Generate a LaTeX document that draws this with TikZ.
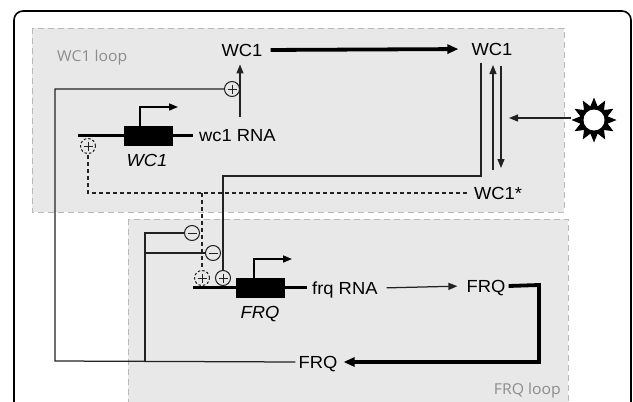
\documentclass[tikz,border=0pt]{standalone}
\usepackage{fontspec}
\setmainfont{Liberation Sans}[FakeStretch=1.05]
\newfontfamily\loopfont{Open Sans}[FakeStretch=1.05]
\usetikzlibrary{arrows.meta,shapes.geometric,calc}
\definecolor{bgfill}{HTML}{E8E8E8}
\definecolor{ink}{HTML}{222222}
\begin{document}
\begin{tikzpicture}[x=1pt,y=-1pt,
  lbl/.style={font=\fontsize{17.5}{19}\selectfont, text height=12.5pt, text depth=0pt, inner sep=3pt},
  ilbl/.style={lbl, font=\fontsize{17.5}{19}\selectfont\itshape},
  looplbl/.style={font=\loopfont\fontsize{15}{17}\selectfont, text=gray!90, inner sep=0pt},
  loopbox/.style={fill=bgfill, draw=gray!55, line width=1pt, dash pattern=on 6pt off 4pt},
  thin/.style={draw=ink, line width=1.25pt},
  thick/.style={draw=black, line width=3.8pt},
  tip/.style={-{Triangle[length=9pt,width=7pt]}},
  ttip/.style={-{Triangle[length=11pt,width=9pt]}},
  sgn/.style={circle, draw=ink, line width=1pt, minimum size=15pt, inner sep=0pt, fill=bgfill},
  plussgn/.style={sgn, path picture={\draw[ink,line width=1pt,solid] ($(path picture bounding box.center)+(-4.5,0)$) -- ++(9,0) ($(path picture bounding box.center)+(0,-4.5)$) -- ++(0,9);}},
  minussgn/.style={sgn, path picture={\draw[ink,line width=1pt,solid] ($(path picture bounding box.center)+(-4.5,0)$) -- ++(9,0);}},
  dsgn/.style={dash pattern=on 2.5pt off 2pt},
  genebox/.style={rectangle, fill=black, draw=black, minimum width=48pt, minimum height=19pt, inner sep=0pt},
  dna/.style={draw=black, line width=3pt},
  dsh/.style={thin, dash pattern=on 4pt off 3pt}
]
\useasboundingbox (0,0) rectangle (633,402);
\clip (0,0) rectangle (633,402);
\fill[white] (0,0) rectangle (633,402);

% outer frame
\draw[line width=1.6pt, rounded corners=9pt] (14,11) rectangle (631,430);

% loop boxes
\path[loopbox] (32,28) rectangle (564,212);
\path[loopbox] (128,219) rectangle (568,420);
\node[looplbl, anchor=west] (wcloop) at (57,58) {WC1 loop};
\node[looplbl, anchor=east] (frqloop) at (561,391) {FRQ loop};

% text nodes
\node[lbl] (WC1top) at (242,50) {WC1};
\node[lbl] (WC1r) at (492,49) {WC1};
\node[lbl] (WC1s) at (498,193) {WC1*};
\node[lbl, anchor=west] (wc1rna) at (196,135) {wc1 RNA};
\node[lbl, anchor=west] (frqrna) at (309,288) {frq RNA};
\node[lbl] (FRQr) at (486,286) {FRQ};
\node[lbl] (FRQb) at (318,362) {FRQ};

% WC1 gene
\coordinate (wdnaL) at (78,135);
\coordinate (wdnaR) at (193,135);
\draw[dna] (wdnaL) -- (wdnaR);
\node[genebox] (gWC1) at (148,135.5) {};
\node[ilbl] (WC1it) at (147,160) {WC1};
\coordinate (wprom) at (140,107);
\coordinate (wpromend) at (178,107);
\draw[draw=black, line width=1.6pt, tip] (gWC1.north -| wprom) -- (wprom) -- (wpromend);

% FRQ gene
\coordinate (fdnaL) at (193,287);
\coordinate (fdnaR) at (307,287);
\draw[dna] (fdnaL) -- (fdnaR);
\node[genebox] (gFRQ) at (260.5,287.5) {};
\node[ilbl] (FRQit) at (260,312) {FRQ};
\coordinate (fprom) at (254,259);
\coordinate (fpromend) at (292,259);
\draw[draw=black, line width=1.6pt, tip] (gFRQ.north -| fprom) -- (fprom) -- (fpromend);

% sign nodes
\node[plussgn] (p1) at (232,89) {};
\node[plussgn, dsgn] (dp1) at (88,146) {};
\node[minussgn] (m1) at (192,233) {};
\node[minussgn] (m2) at (213,253) {};
\node[plussgn, dsgn] (dp2) at (202,278) {};
\node[plussgn] (p2) at (223,278) {};

% sun
\node[star, star points=12, star point ratio=1.6, minimum size=45pt, inner sep=0pt, fill=black] (sun) at (594,120) {};
\fill[white] (sun.center) circle (10.5pt);

% thick WC1 -> WC1
\draw[thick, ttip, shorten <=5pt, shorten >=10pt] (WC1top.east) -- (WC1r.west);

% wc1 RNA -> WC1
\coordinate (wup) at (240,117);
\draw[thin, tip, shorten >=5pt] (wup) -- (wup |- WC1top.south);

% FRQ -> WC1 activation and FRQ repression lines
\coordinate (c1) at (55,361);
\coordinate (c2) at (145,361);
\draw[thin] (FRQb.west) -- (c1) |- (p1.west);
\draw[thin] (c2) |- (m1.west);
\draw[thin] (c2 |- m2) -- (m2.west);

% WC1* dashed lines
\coordinate (d1) at (88,193);
\coordinate (d2) at (202,193);
\draw[dsh] ([xshift=-4pt]WC1s.west) -- (d1) -- (dp1.south);
\draw[dsh] (d2) -- (dp2.north);

% WC1 -> FRQ activation
\coordinate (s1) at (481,63);
\coordinate (s2) at (481,176);
\coordinate (s3) at (223,176);
\draw[thin] (s1) -- (s2) -- (s3) -- (p2.north);

% WC1 <-> WC1*
\coordinate (uA) at (493,170);
\coordinate (uB) at (493,65);
\coordinate (dA) at (501,66);
\coordinate (dB) at (501,168);
\draw[thin, tip] (uA) -- (uB);
\draw[thin, tip] (dA) -- (dB);

% light
\coordinate (lt) at (509,118);
\draw[thin, tip] (sun.west |- lt) -- (lt);

% frq RNA -> FRQ
\draw[thin, tip, shorten <=6pt, shorten >=6pt] (frqrna.east) -- (FRQr.west);

% FRQ -> FRQ thick
\coordinate (k1) at (539,285);
\coordinate (k2) at (539,362);
\draw[thick, ttip, line join=miter, shorten >=3pt] (FRQr.east) -- (k1) -- (k2) -- (FRQb.east);
\end{tikzpicture}
\end{document}
